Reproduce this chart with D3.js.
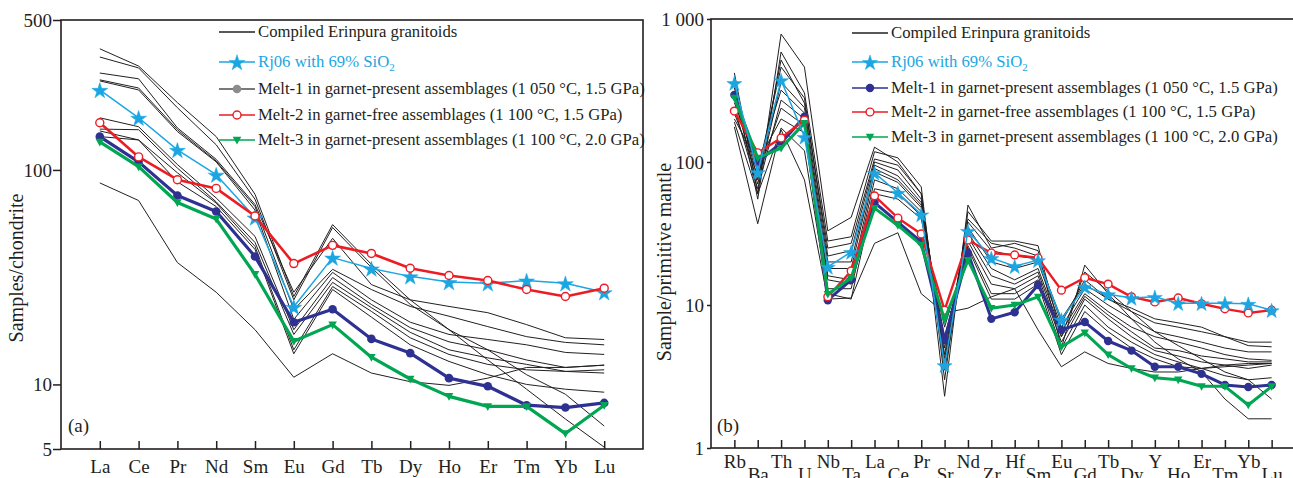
<!DOCTYPE html>
<html><head><meta charset="utf-8">
<script src="https://cdn.jsdelivr.net/npm/d3@7"></script>
<style>body{margin:0;background:#fff}svg{display:block}text{font-family:"Liberation Serif","Times New Roman",serif;fill:#231F20}</style>
</head><body><svg id="c" width="1293" height="478"></svg>
<script>
// ---------- DATA ----------
const elementsA = ["La","Ce","Pr","Nd","Sm","Eu","Gd","Tb","Dy","Ho","Er","Tm","Yb","Lu"];
const ticksA = [5, 10, 100, 500];
const rj06A  = [236, 175, 124, 95, 60, 23, 39, 34.7, 31.9, 30, 29.6, 30.5, 29.6, 26.9];
const melt1A = [143, 109, 76, 64, 39.5, 19.5, 22.4, 16.3, 14, 10.7, 9.8, 8.0, 7.8, 8.2];
const melt2A = [166, 115, 90, 82, 61, 36.6, 44.5, 40.8, 34.8, 32.2, 30.5, 27.7, 25.7, 28.1];
const melt3A = [135, 103.6, 70.5, 59, 32.6, 15.9, 19, 13.4, 10.6, 8.8, 7.9, 7.9, 5.9, 8.0];
const compiledA = [
  [367, 305, 206, 143, 77, 25.7, 55.6, 36.3, 24.8, 18.0, 13.0, 9.5, 6.9, 5.1],
  [336, 299, 195, 131, 73, 24.8, 53.9, 35.1, 23.6, 18.0, 14.5, 11.1, 9.0, 6.4],
  [283, 266, 157, 112, 69, 26.9, 48, 29.2, 24.8, 23.1, 21.6, 19.0, 16.5, 16.2],
  [263, 241, 154, 110, 67.5, 22.3, 34.4, 27.7, 23.1, 20.8, 18.6, 16.7, 15.7, 15.3],
  [260, 236, 151, 109, 65, 20.1, 33.3, 24.8, 19.5, 17.1, 16.2, 15.3, 14.1, 13.8],
  [175, 159, 106, 74, 49, 18.0, 31.5, 23.6, 18.4, 15.8, 14.5, 13.0, 12.0, 12.3],
  [155, 154, 102, 71, 45.9, 17.1, 29.9, 22.8, 17.5, 14.5, 13.3, 12.4, 11.5, 11.7],
  [152, 138, 97, 70, 44, 14.5, 28.6, 21.9, 16.5, 13.8, 12.4, 11.7, 11.5, 11.3],
  [143, 138, 88, 67.5, 42.6, 13.9, 27.7, 20.6, 15.3, 12.8, 11.1, 10.0, 9.5, 9.2],
  [87, 72, 37, 26.9, 18.0, 10.8, 13.9, 11.3, 10.3, 9.9, 10.7, 12.0, 12.0, 12.3]
];

const elementsB = ["Rb","Ba","Th","U","Nb","Ta","La","Ce","Pr","Sr","Nd","Zr","Hf","Sm","Eu","Gd","Tb","Dy","Y","Ho","Er","Tm","Yb","Lu"];
const ticksB = [1, 10, 100, 1000];
const tickLabelsB = ["1", "10", "100", "1 000"];
const rj06B  = [357, 85, 374, 150, 18.5, 23.5, 84, 61, 43, 3.8, 33, 21.3, 18.7, 20.6, 7.9, 13.4, 11.9, 11.2, 11.4, 10.3, 10.3, 10.3, 10.2, 9.2];
const melt1B = [294, 100, 136, 207, 10.8, 15, 52, 38, 27.6, 5.7, 23.1, 8.0, 8.9, 13.8, 6.7, 7.6, 5.6, 4.8, 3.7, 3.7, 3.3, 2.76, 2.67, 2.76];
const melt2B = [227, 116, 147, 196, 11.4, 17.3, 58, 40.6, 31.4, 9.2, 28.5, 23.1, 22.4, 21.3, 12.7, 15.5, 14.0, 11.4, 10.5, 11.2, 10.2, 9.4, 8.8, 9.2];
const melt3B = [281, 107, 125, 187, 11.9, 15.5, 47.6, 36, 26.3, 7.9, 20.6, 9.5, 10, 11.4, 5.1, 6.4, 4.5, 3.6, 3.1, 3.0, 2.7, 2.7, 2.0, 2.7];
const compiledB = [
  [420, 60, 785, 461, 33, 41, 127, 100, 60, 2.3, 50, 25, 27, 24, 5.0, 19, 12, 8, 5.5, 4.2, 3.4, 2.2, 1.6, 1.6],
  [350, 55, 588, 304, 28, 30, 118, 107, 67, 3.0, 45, 28, 28, 26, 6.0, 17, 12.5, 9, 6.5, 5.2, 4.2, 3.4, 3.0, 2.2],
  [330, 75, 517, 258, 25, 27, 105, 95, 60, 4.0, 40, 27, 25, 22, 7.5, 15, 11, 9.5, 8, 7.5, 7, 6, 5.5, 5.5],
  [300, 85, 461, 280, 22, 24, 100, 88, 55, 4.5, 38, 24, 22, 21, 8.0, 14, 11, 9, 7.5, 7, 6.5, 6, 5.2, 5.1],
  [280, 70, 362, 240, 20, 20, 95, 80, 52, 5.0, 35, 20, 18, 20, 7.0, 13, 10, 8, 6.5, 6, 5.5, 5, 4.7, 4.7],
  [260, 95, 318, 220, 18, 18, 90, 75, 50, 3.5, 32, 18, 15, 18, 6.5, 12, 9, 7, 6, 5.5, 5, 4.5, 4.2, 4.1],
  [240, 65, 271, 200, 16, 15, 85, 72, 48, 4.2, 30, 16, 14, 17, 6.0, 11.5, 8.5, 6.5, 5, 4.8, 4.4, 4.2, 4.0, 4.0],
  [220, 80, 238, 180, 15, 14, 75, 65, 45, 5.5, 28, 14, 13, 16, 5.5, 11, 8, 6, 4.8, 4.4, 4.0, 3.8, 3.6, 3.8],
  [200, 100, 200, 160, 13, 13, 65, 60, 42, 6.0, 26, 12, 12, 15, 5.0, 10, 7, 5.5, 4.5, 4, 3.6, 3.2, 3.0, 3.1],
  [176, 37, 173, 120, 12, 11, 60, 55, 40, 7, 25, 11, 11, 14, 4.5, 9, 6.5, 5, 4.2, 3.7, 3.6, 3.7, 3.8, 3.9],
  [190, 60, 168, 75, 11, 11.2, 27, 32, 12, 8.8, 9.5, 11.4, 13, 6.7, 3.7, 4.7, 3.9, 3.6, 3.4, 3.4, 3.6, 3.8, 3.9, 3.9]
];

const legendLabels = [
  "Compiled Erinpura granitoids",
  "Rj06 with 69% SiO",
  "Melt-1 in garnet-present assemblages (1 050 \u00B0C, 1.5 GPa)",
  "Melt-2 in garnet-free assemblages (1 100 \u00B0C, 1.5 GPa)",
  "Melt-3 in garnet-present assemblages (1 100 \u00B0C, 2.0 GPa)"
];

// ---------- STYLE ----------
const C = {comp:"#231F20", rj:"#1BA6E2", m1:"#2E3192", m2:"#ED1C24", m3:"#00A651"};
const svg = d3.select("#c");

function panel(cfg){
  const g = svg.append("g");
  const x = d3.scalePoint().domain(cfg.elements).range([cfg.L, cfg.R]).padding(1);
  const y = d3.scaleLog().domain(cfg.domain).range([cfg.B, cfg.T]);
  const line = d3.line().x((d,i)=>x(cfg.elements[i])).y(d=>y(d));

  g.append("g").selectAll("path").data(cfg.compiled).join("path")
    .attr("d", line).attr("fill","none").attr("stroke",C.comp).attr("stroke-width",1);

  const series = cfg.order.map(k => cfg.series[k]);
  series.forEach(s=>{
    const sg = g.append("g");
    sg.append("path").attr("d", line(s.data)).attr("fill","none")
      .attr("stroke", s.color).attr("stroke-width", s.width).attr("stroke-linejoin","round");
    const pts = s.data.map((d,i)=>[x(cfg.elements[i]), y(d)]);
    drawMarkers(sg, pts, s);
  });

  g.append("rect").attr("x",cfg.L).attr("y",cfg.T).attr("width",cfg.R-cfg.L).attr("height",cfg.B-cfg.T)
    .attr("fill","none").attr("stroke","#231F20").attr("stroke-width",1.6);

  const ya = g.append("g").attr("transform",`translate(${cfg.L},0)`)
    .call(d3.axisLeft(y).tickValues(cfg.ticks).tickFormat((d,i)=>cfg.tickLabels[i]).tickSizeOuter(0).tickSize(cfg.ytick).tickPadding(cfg.ypad));
  ya.select(".domain").remove();
  ya.selectAll("line").attr("stroke","#231F20").attr("stroke-width",1.5);
  ya.selectAll("text").attr("font-size",19).style("font-family",'"Liberation Serif",serif').attr("fill","#231F20");

  const xa = g.append("g").attr("transform",`translate(0,${cfg.B})`)
    .call(d3.axisBottom(x).tickSize(-8).tickSizeOuter(0));
  xa.select(".domain").remove();
  xa.selectAll("line").attr("stroke","#231F20").attr("stroke-width",1.5);
  xa.selectAll("text").attr("font-size",19).style("font-family",'"Liberation Serif",serif').attr("fill","#231F20")
    .attr("dy",null).attr("y",(d,i)=>cfg.xlabY(i));

  g.append("text").attr("transform",`translate(${cfg.ylabX},${cfg.ylabY}) rotate(-90)`)
    .attr("text-anchor","middle").attr("font-size",20).text(cfg.ylabel);
  g.append("text").attr("x",cfg.tagX).attr("y",cfg.tagY).attr("font-size",19).text(cfg.tag);

  const lg = g.append("g");
  cfg.legendRows.forEach((yy,i)=>{
    const key = ["comp","rj","m1","m2","m3"][i];
    let s = key==="comp" ? {color:C.comp,width:1.3,marker:null} : Object.assign({}, cfg.series[key]);
    if (key==="m1" && cfg.grayMelt1) s = Object.assign(s,{color:"#4D4D4D",fill:"#8C8C8C",width:1.5});
    else if (key!=="comp") s.width = 1.6;
    lg.append("line").attr("x1",cfg.legX1).attr("x2",cfg.legX2).attr("y1",yy).attr("y2",yy)
      .attr("stroke",s.color).attr("stroke-width",s.width);
    if (s.marker) drawMarkers(lg, [[(cfg.legX1+cfg.legX2)/2, yy]], s);
    const t = lg.append("text").attr("x",cfg.legX2+3).attr("y",yy+5).attr("font-size",16.7)
      .style("fill", key==="rj" ? C.rj : "#231F20")
      .text(legendLabels[i]);
    if (key==="rj") t.append("tspan").attr("font-size",11).attr("dy",4).text("2");
  });
}

function drawMarkers(g, pts, s){
  if (s.marker==="star"){
    g.selectAll(null).data(pts).join("path")
      .attr("d", d3.symbol(d3.symbolStar, s.size)())
      .attr("transform", d=>`translate(${d[0]},${d[1]+1})`)
      .attr("fill", s.color).attr("stroke", s.color).attr("stroke-width",0.5);
  } else if (s.marker==="dot"){
    g.selectAll(null).data(pts).join("circle").attr("cx",d=>d[0]).attr("cy",d=>d[1]).attr("r",s.r)
      .attr("fill", s.fill || s.color);
  } else if (s.marker==="open"){
    g.selectAll(null).data(pts).join("circle").attr("cx",d=>d[0]).attr("cy",d=>d[1]).attr("r",s.r)
      .attr("fill","#fff").attr("stroke", s.color).attr("stroke-width",1.4);
  } else if (s.marker==="tri"){
    const h = s.r;
    g.selectAll(null).data(pts).join("path")
      .attr("d", d=>`M${d[0]-h},${d[1]-h*0.75}L${d[0]+h},${d[1]-h*0.75}L${d[0]},${d[1]+h*1.05}Z`)
      .attr("fill", s.color);
  }
}

const seriesA = {
  rj:{data:rj06A,color:C.rj,width:1.5,marker:"star",size:78},
  m1:{data:melt1A,color:C.m1,width:3.2,marker:"dot",r:4.3},
  m2:{data:melt2A,color:C.m2,width:2.6,marker:"open",r:4},
  m3:{data:melt3A,color:C.m3,width:3.2,marker:"tri",r:4.3}
};
panel({
  elements:elementsA, L:61, R:643, T:20, B:449, domain:[5,500], ticks:ticksA, tickLabels:["5","10","100","500"],
  ytick:8, ypad:1, compiled:compiledA, series:seriesA, order:["rj","m1","m3","m2"],
  xlabY:()=>24, ylabX:23, ylabY:268, ylabel:"Samples/chondrite", tag:"(a)", tagX:68, tagY:432,
  legendRows:[32,62,89,115,140], legX1:219, legX2:255, grayMelt1:true
});

const seriesB = {
  rj:{data:rj06B,color:C.rj,width:1.5,marker:"star",size:70},
  m1:{data:melt1B,color:C.m1,width:3,marker:"dot",r:4.2},
  m2:{data:melt2B,color:C.m2,width:2.4,marker:"open",r:3.9},
  m3:{data:melt3B,color:C.m3,width:3,marker:"tri",r:4.2}
};
panel({
  elements:elementsB, L:711, R:1295, T:19, B:448, domain:[1,1000], ticks:ticksB, tickLabels:tickLabelsB,
  ytick:4, ypad:3, compiled:compiledB, series:seriesB, order:["m1","m2","m3","rj"],
  xlabY:(i)=> i%2===0 ? 20 : 33, ylabX:671, ylabY:262, ylabel:"Sample/primitive mantle", tag:"(b)", tagX:717, tagY:432,
  legendRows:[33,62,88,112,137], legX1:852, legX2:888, grayMelt1:false
});
</script></body></html>
